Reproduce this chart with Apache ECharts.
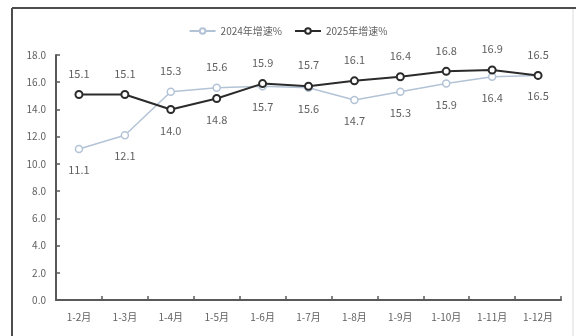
<!DOCTYPE html>
<html>
<head>
<meta charset="utf-8">
<script src="https://cdn.jsdelivr.net/npm/echarts@6/dist/echarts.min.js"></script>
<style>
  html, body { margin: 0; padding: 0; background: #fff; }
  #chart { width: 576px; height: 336px; }
</style>
</head>
<body>
<div id="chart"></div>
<script>
// Cumulative year-on-year growth, by period
const categories = ['1-2月', '1-3月', '1-4月', '1-5月', '1-6月', '1-7月', '1-8月', '1-9月', '1-10月', '1-11月', '1-12月'];
const growth2024 = [11.1, 12.1, 15.3, 15.6, 15.7, 15.6, 14.7, 15.3, 15.9, 16.4, 16.5];
const growth2025 = [15.1, 15.1, 14.0, 14.8, 15.9, 15.7, 16.1, 16.4, 16.8, 16.9, 16.5];
const seriesNames = ['2024年增速%', '2025年增速%'];
const yTicks = { min: 0, max: 18, interval: 2 };

const font = '"Noto Sans CJK SC", "Noto Sans", sans-serif';
const labelColor = '#606060';
const axisColor = '#595959';

// Put the higher line's label above its point and the lower one's below
function withLabels(values, others, preferTop) {
  return values.map((v, i) => {
    const above = preferTop ? v >= others[i] : v > others[i];
    return { value: v, label: { position: above ? 'top' : 'bottom' } };
  });
}

const chart = echarts.init(document.getElementById('chart'), null, { renderer: 'canvas' });

chart.setOption({
  backgroundColor: '#ffffff',
  animation: false,
  textStyle: { fontFamily: font },
  legend: {
    top: 21,
    left: 'center',
    itemWidth: 26,
    itemHeight: 7,
    itemGap: 12,
    textStyle: { fontSize: 10, color: labelColor, fontFamily: font },
    data: seriesNames
  },
  grid: { left: 56, right: 15, top: 55, bottom: 36 },
  xAxis: {
    type: 'category',
    data: categories,
    boundaryGap: true,
    axisLine: { lineStyle: { color: axisColor, width: 2 } },
    axisTick: { show: true, inside: true, length: 4, lineStyle: { color: axisColor, width: 1.5 } },
    axisLabel: { color: labelColor, fontSize: 10, margin: 12, fontFamily: font, interval: 0 },
    splitLine: { show: false }
  },
  yAxis: {
    type: 'value',
    min: yTicks.min,
    max: yTicks.max,
    interval: yTicks.interval,
    axisLine: { show: true, lineStyle: { color: axisColor, width: 2 } },
    axisTick: { show: true, inside: true, length: 4, lineStyle: { color: axisColor, width: 1.5 } },
    axisLabel: {
      color: labelColor, fontSize: 10, margin: 10, fontFamily: font,
      formatter: v => v.toFixed(1)
    },
    splitLine: { show: false }
  },
  series: [
    {
      name: seriesNames[0],
      type: 'line',
      data: withLabels(growth2024, growth2025, false),
      symbol: 'circle',
      symbolSize: 7,
      itemStyle: { color: '#ffffff', borderColor: '#b3c3d6', borderWidth: 1.5 },
      lineStyle: { color: '#b3c3d6', width: 1.5 },
      label: {
        show: true, color: labelColor, fontSize: 11, distance: 11, fontFamily: font,
        formatter: p => p.value.toFixed(1)
      },
      z: 2
    },
    {
      name: seriesNames[1],
      type: 'line',
      data: withLabels(growth2025, growth2024, true),
      symbol: 'circle',
      symbolSize: 7,
      itemStyle: { color: '#ffffff', borderColor: '#2b2b2b', borderWidth: 2 },
      lineStyle: { color: '#2b2b2b', width: 2 },
      label: {
        show: true, color: labelColor, fontSize: 11, distance: 11, fontFamily: font,
        formatter: p => p.value.toFixed(1)
      },
      z: 3
    }
  ],
  graphic: [
    // chart-area frame
    { type: 'line', shape: { x1: 12, y1: 8, x2: 576, y2: 8 }, style: { stroke: '#4d4d4d', lineWidth: 2 }, silent: true },
    { type: 'line', shape: { x1: 12, y1: 8, x2: 12, y2: 336 }, style: { stroke: '#4d4d4d', lineWidth: 2 }, silent: true },
    { type: 'line', shape: { x1: 573, y1: 9, x2: 573, y2: 336 }, style: { stroke: '#dcdcdc', lineWidth: 1 }, silent: true }
  ]
});
</script>
</body>
</html>
